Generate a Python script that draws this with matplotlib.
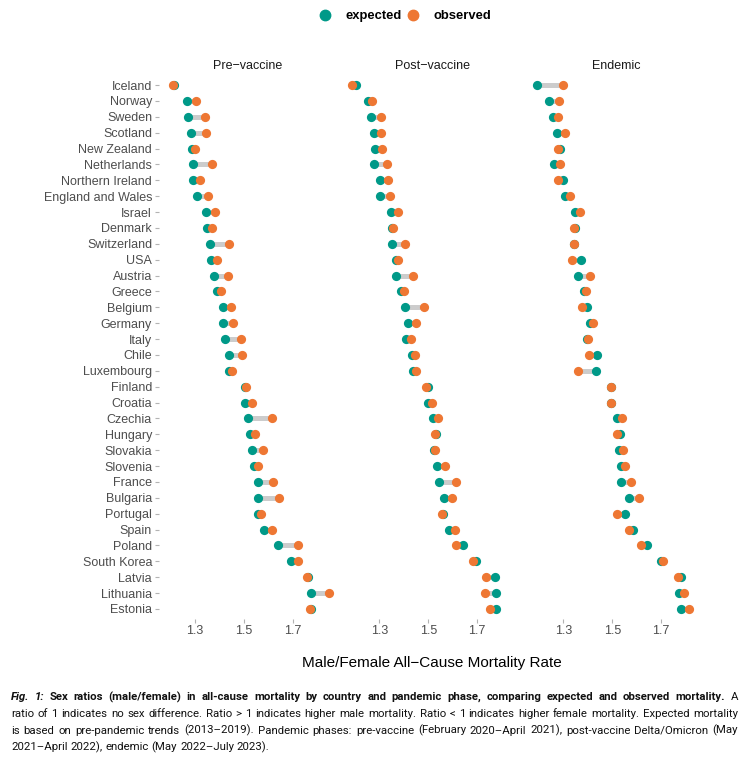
import numpy as np
import matplotlib.pyplot as plt
from matplotlib.lines import Line2D

# data
countries = ['Iceland', 'Norway', 'Sweden', 'Scotland', 'New Zealand', 'Netherlands',
             'Northern Ireland', 'England and Wales', 'Israel', 'Denmark', 'Switzerland',
             'USA', 'Austria', 'Greece', 'Belgium', 'Germany', 'Italy', 'Chile',
             'Luxembourg', 'Finland', 'Croatia', 'Czechia', 'Hungary', 'Slovakia',
             'Slovenia', 'France', 'Bulgaria', 'Portugal', 'Spain', 'Poland',
             'South Korea', 'Latvia', 'Lithuania', 'Estonia']

pre_exp = [1.214, 1.270, 1.274, 1.285, 1.290, 1.292, 1.293, 1.307, 1.344, 1.350, 1.363,
           1.364, 1.376, 1.391, 1.413, 1.416, 1.422, 1.439, 1.439, 1.503, 1.503, 1.516,
           1.526, 1.531, 1.542, 1.557, 1.557, 1.558, 1.582, 1.639, 1.693, 1.762, 1.775, 1.775]
pre_obs = [1.210, 1.304, 1.342, 1.344, 1.299, 1.369, 1.319, 1.354, 1.382, 1.369, 1.439,
           1.390, 1.437, 1.406, 1.446, 1.455, 1.488, 1.493, 1.452, 1.510, 1.533, 1.614,
           1.544, 1.579, 1.558, 1.618, 1.643, 1.569, 1.614, 1.720, 1.722, 1.758, 1.846, 1.769]

post_exp = [1.204, 1.255, 1.266, 1.279, 1.282, 1.278, 1.302, 1.304, 1.348, 1.351, 1.353,
            1.367, 1.367, 1.388, 1.406, 1.417, 1.410, 1.432, 1.438, 1.501, 1.501, 1.520,
            1.532, 1.525, 1.534, 1.544, 1.563, 1.562, 1.583, 1.642, 1.697, 1.771, 1.776, 1.778]
post_obs = [1.187, 1.271, 1.308, 1.308, 1.312, 1.330, 1.336, 1.343, 1.378, 1.355, 1.404,
            1.377, 1.438, 1.400, 1.481, 1.451, 1.430, 1.445, 1.452, 1.493, 1.515, 1.540,
            1.526, 1.529, 1.569, 1.614, 1.599, 1.556, 1.611, 1.614, 1.684, 1.738, 1.730, 1.753]

end_exp = [1.191, 1.243, 1.258, 1.274, 1.285, 1.262, 1.298, 1.306, 1.349, 1.348, 1.345,
           1.371, 1.359, 1.386, 1.399, 1.411, 1.399, 1.436, 1.433, 1.495, 1.496, 1.518,
           1.533, 1.528, 1.534, 1.536, 1.567, 1.553, 1.585, 1.641, 1.698, 1.780, 1.772, 1.780]
end_obs = [1.300, 1.282, 1.277, 1.306, 1.278, 1.285, 1.278, 1.326, 1.370, 1.343, 1.344,
           1.337, 1.408, 1.392, 1.377, 1.423, 1.400, 1.405, 1.360, 1.495, 1.497, 1.542,
           1.521, 1.544, 1.552, 1.578, 1.611, 1.518, 1.570, 1.618, 1.707, 1.768, 1.794, 1.813]

phases = ['Pre\u2212vaccine', 'Post\u2212vaccine', 'Endemic']
expected = [pre_exp, post_exp, end_exp]
observed = [pre_obs, post_obs, end_obs]
xticks = [1.3, 1.5, 1.7]

TEAL = '#009988'
ORANGE = '#EE7733'
GREY30 = '#4D4D4D'
W, H = 752, 760

plt.rcParams['font.family'] = ['Liberation Sans', 'DejaVu Sans']
fig = plt.figure(figsize=(W / 100, H / 100), dpi=100)

# panels in pixel coordinates (left, right), shared top/bottom
panels_x = [(159, 337), (343.5, 521), (527.5, 705)]
top, bottom = 75.5, 618.5
y = np.arange(len(countries))

for i, (l, r) in enumerate(panels_x):
    ax = fig.add_axes([l / W, 1 - bottom / H, (r - l) / W, (bottom - top) / H])
    e = np.array(expected[i])
    o = np.array(observed[i])
    ax.hlines(y, np.minimum(e, o), np.maximum(e, o), color='#CCCCCC', lw=3.6, zorder=1)
    ax.scatter(e, y, s=44, color=TEAL, zorder=2, linewidths=0)
    ax.scatter(o, y, s=44, color=ORANGE, zorder=3, linewidths=0)
    ax.set_xlim(1.154, 1.879)
    ax.set_ylim(len(countries) - 0.4, -0.6)
    ax.set_xticks(xticks)
    ax.set_xticklabels([f'{t:.1f}' for t in xticks])
    ax.set_yticks(y)
    ax.tick_params(colors='#B3B3B3', labelcolor=GREY30, labelsize=9, length=3, width=0.8, pad=2)
    if i == 0:
        ax.set_yticklabels(countries)
    else:
        ax.set_yticklabels([])
        ax.tick_params(axis='y', length=0)
    for sp in ax.spines.values():
        sp.set_visible(False)
    ax.set_title(phases[i], fontsize=9, color='#1A1A1A', pad=5)

fig.text(432 / W, 1 - 663 / H, 'Male/Female All\u2212Cause Mortality Rate',
         ha='center', va='center', fontsize=11, color='black')

# legend at top
handles = [Line2D([], [], marker='o', ls='', color=TEAL, markersize=7.5),
           Line2D([], [], marker='o', ls='', color=ORANGE, markersize=7.5)]
fig.legend(handles, ['expected', 'observed'], loc='center', ncol=2,
           bbox_to_anchor=(405 / W, 1 - 16 / H), frameon=False,
           prop={'weight': 'bold', 'size': 9.4}, handletextpad=1.1, columnspacing=0.35,
           handlelength=1.0)

# caption with mixed styles, justified like the journal layout
cap_font = ['Roboto', 'DejaVu Sans']
cap_lines = [
    [('Fig. 1:', 'bold', 'italic'),
     ('Sex ratios (male/female) in all-cause mortality by country and pandemic phase, '
      'comparing expected and observed mortality.', 'bold', 'normal'),
     ('A', 'normal', 'normal')],
    [('ratio of 1 indicates no sex difference. Ratio > 1 indicates higher male mortality. '
      'Ratio < 1 indicates higher female mortality. Expected mortality', 'normal', 'normal')],
    [('is based on pre-pandemic trends (2013\u20132019). Pandemic phases: pre-vaccine '
      '(February 2020\u2013April 2021), post-vaccine Delta/Omicron (May', 'normal', 'normal')],
    [('2021\u2013April 2022), endemic (May 2022\u2013July 2023).', 'normal', 'normal')],
]
cap_y = [697, 714, 730.5, 747]
x0, x1 = 11, 738
renderer = fig.canvas.get_renderer()


def line_words(k, size):
    items = []
    for txt, wt, st in cap_lines[k]:
        for word in txt.split():
            t = fig.text(0, 1 - cap_y[k] / H, word, fontsize=size, family=cap_font,
                         weight=wt, style=st, va='center', ha='left', color='#111111')
            items.append(t)
    return items


def text_w(s, size):
    t = fig.text(0, 0, s, fontsize=size, family=cap_font)
    w = t.get_window_extent(renderer).width
    t.remove()
    return w


def natural_width(k, size):
    items = line_words(k, size)
    ws = [t.get_window_extent(renderer).width for t in items]
    for t in items:
        t.remove()
    space = text_w('a a', size) - text_w('aa', size)
    return sum(ws) + space * (len(ws) - 1)


# regular lines set the body size; the bold first line is fitted on its own
base = 10.0
body = min(base, base * (x1 - x0) / max(natural_width(1, base), natural_width(2, base)) * 0.98)
head = min(body, base * (x1 - x0) / natural_width(0, base) * 0.995)
sizes = [head, body, body, body]
space_body = text_w('a a', body) - text_w('aa', body)

for k in range(len(cap_lines)):
    items = line_words(k, sizes[k])
    widths = [t.get_window_extent(renderer).width for t in items]
    if k < len(cap_lines) - 1:
        gap = (x1 - x0 - sum(widths)) / (len(items) - 1)
    else:
        gap = space_body
    x = x0
    for t, w in zip(items, widths):
        t.set_x(x / W)
        x += w + gap

fig.savefig('out.png', dpi=100)
